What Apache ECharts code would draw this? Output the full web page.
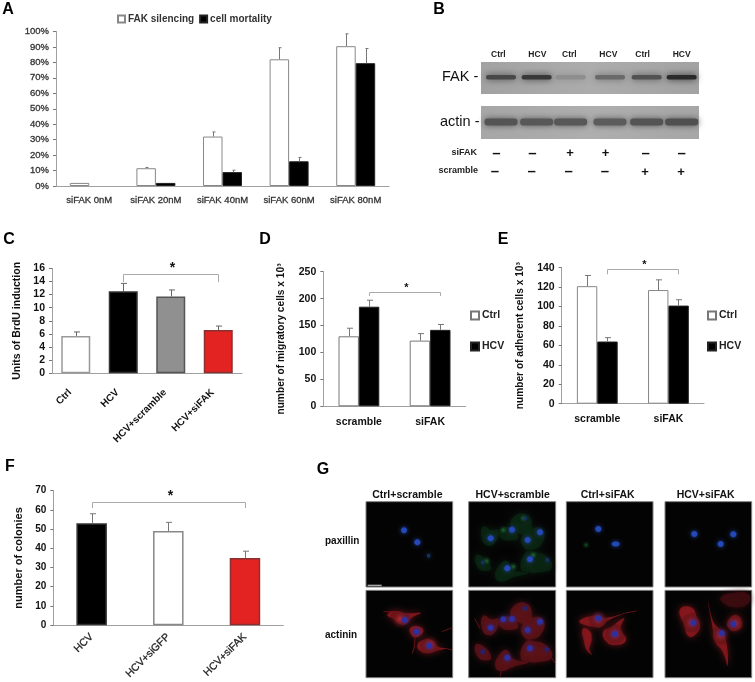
<!DOCTYPE html>
<html>
<head>
<meta charset="utf-8">
<title>FAK panels</title>
<script src="https://cdn.jsdelivr.net/npm/echarts@6/dist/echarts.min.js"></script>
<style>
  html, body { margin: 0; padding: 0; background: #fff; }
  #main { width: 755px; height: 682px; }
</style>
</head>
<body>
<div id="main"></div>
<script>
// panel A
const aCats = ['siFAK 0nM', 'siFAK 20nM', 'siFAK 40nM', 'siFAK 60nM', 'siFAK 80nM'];
const aSilencing = [2, 11.5, 32, 82, 90.5];
const aSilencingTop = [2, 12, 35, 89.5, 98.5];
const aMortality = [null, 2, 9, 16, 79.5];
const aMortalityTop = [null, 2, 10.2, 18.5, 89];
// panel C
const cCats = ['Ctrl', 'HCV', 'HCV+scramble', 'HCV+siFAK'];
const cValues = [5.7, 12.5, 11.7, 6.6];
const cTops = [6.3, 13.7, 12.7, 7.2];
const cColors = ['#ffffff', '#000000', '#909090', '#e32222'];
const cBorders = ['#999999', '#333333', '#555555', '#8a3030'];
// panel D
const dCats = ['scramble', 'siFAK'];
const dCtrl = [130, 122];
const dCtrlTop = [145, 135];
const dHcv = [185, 142];
const dHcvTop = [197, 152];
// panel E
const eCats = ['scramble', 'siFAK'];
const eCtrl = [121, 117];
const eCtrlTop = [132, 127.5];
const eHcv = [64, 101];
const eHcvTop = [68, 107];
// panel F
const fCats = ['HCV', 'HCV+siGFP', 'HCV+siFAK'];
const fValues = [53, 49, 35];
const fTops = [58, 53.5, 38.5];
const fColors = ['#000000', '#ffffff', '#e32222'];
const fBorders = ['#333333', '#888888', '#8a3030'];
// blot
const blotLanes = ['Ctrl', 'HCV', 'Ctrl', 'HCV', 'Ctrl', 'HCV'];
const siFakSigns = ['–', '–', '+', '+', '–', '–'];
const scrambleSigns = ['–', '–', '–', '–', '+', '+'];
const fakBands = ['#484848', '#383838', '#8e8e8e', '#6a6a6a', '#525252', '#2a2a2a'];
const actinBands = ['#545454', '#585858', '#585858', '#5c5c5c', '#545454', '#505050'];
// microscopy
const micColumns = ['Ctrl+scramble', 'HCV+scramble', 'Ctrl+siFAK', 'HCV+siFAK'];
const micRows = ['paxillin', 'actinin'];

const FONT = '"Liberation Sans", Arial, sans-serif';
const AXIS_GREY = '#a0a0a0';

// error bar drawn on top of a bar, value -> pixel via the axis
function errorSeries(idx, cats, values, tops, offset, color, cap) {
  return {
    type: 'custom',
    xAxisIndex: idx,
    yAxisIndex: idx,
    silent: true,
    z: 3,
    data: cats.map((c, i) => [i, values[i], tops[i]]),
    encode: { x: 0, y: 1 },
    renderItem: function (params, api) {
      if (!(api.value(2) > api.value(1))) return null;
      const a = api.coord([api.value(0), api.value(1)]);
      const b = api.coord([api.value(0), api.value(2)]);
      const x = Math.round(a[0] + offset) + 0.5;
      const lineStyle = { stroke: color, lineWidth: 1, fill: null };
      return {
        type: 'group',
        children: [
          { type: 'line', shape: { x1: x, y1: a[1], x2: x, y2: b[1] }, style: lineStyle },
          { type: 'line', shape: { x1: x - cap, y1: b[1], x2: x + cap + 1, y2: b[1] }, style: lineStyle }
        ]
      };
    }
  };
}

// significance bracket with its star
function bracketSeries(idx, from, to, level, drop, offset, starSize) {
  return {
    type: 'custom',
    xAxisIndex: idx,
    yAxisIndex: idx,
    silent: true,
    z: 4,
    data: [[from, level, to, drop]],
    renderItem: function (params, api) {
      const left = api.coord([api.value(0), api.value(1)]);
      const right = api.coord([api.value(2), api.value(1)]);
      const low = api.coord([api.value(0), api.value(3)]);
      const x1 = Math.round(left[0] + offset) + 0.5;
      const x2 = Math.round(right[0] + offset) + 0.5;
      const y = Math.round(left[1]) + 0.5;
      return {
        type: 'group',
        children: [
          { type: 'polyline', shape: { points: [[x1, low[1]], [x1, y], [x2, y], [x2, low[1]]] }, style: { stroke: '#aaa', lineWidth: 1, fill: null } },
          { type: 'text', style: { text: '*', x: (x1 + x2) / 2 + 1.5, y: y - starSize / 2 + 1, align: 'center', textAlign: 'center', verticalAlign: 'middle', textVerticalAlign: 'middle', font: 'bold ' + starSize + 'px ' + FONT, fill: '#111' } }
        ]
      };
    }
  };
}

function barSeries(idx, name, values, color, border, width) {
  return {
    type: 'bar',
    name: name,
    xAxisIndex: idx,
    yAxisIndex: idx,
    barWidth: width,
    barGap: 0,
    silent: true,
    z: 2,
    itemStyle: { color: color, borderColor: border, borderWidth: 1 },
    data: values
  };
}

function paintedBars(idx, values, colors, borders, width) {
  const s = barSeries(idx, 'bars' + idx, [], '#000', '#000', width);
  s.data = values.map((v, i) => ({ value: v, itemStyle: { color: colors[i], borderColor: borders[i], borderWidth: 1.5 } }));
  return s;
}

function xAxisFor(idx, cats, label) {
  return {
    type: 'category',
    gridIndex: idx,
    data: cats,
    axisLine: { lineStyle: { color: AXIS_GREY } },
    axisTick: { alignWithLabel: false, length: 3, lineStyle: { color: '#777' } },
    axisLabel: Object.assign({ interval: 0, fontFamily: FONT, color: '#222' }, label)
  };
}

function yAxisFor(idx, max, interval, label, name, nameGap, nameFont) {
  return {
    type: 'value',
    gridIndex: idx,
    min: 0,
    max: max,
    interval: interval,
    name: name,
    nameLocation: 'middle',
    nameGap: nameGap,
    nameTextStyle: { fontFamily: FONT, fontWeight: 'bold', fontSize: nameFont, color: '#111' },
    splitLine: { show: false },
    axisLine: { show: true, lineStyle: { color: AXIS_GREY } },
    axisTick: { show: true, length: 3, lineStyle: { color: '#777' } },
    axisLabel: Object.assign({ fontFamily: FONT, color: '#222', margin: 7 }, label)
  };
}

// ---- images (blot and micrographs), coordinates measured off the 3x crop ----
function txt(text, x, y, font, fill, align) {
  return {
    type: 'text', silent: true,
    style: { text: text, x: x, y: y, font: font, fill: fill || '#111',
      align: align || 'center', textAlign: align || 'center', verticalAlign: 'middle', textVerticalAlign: 'middle' }
  };
}

function signFont(t) {
  return t === '+' ? 'bold 13px ' + FONT : 'bold 15px ' + FONT;
}

function blotGraphics() {
  const out = [];
  const ox = 425;
  const laneX = [228, 335, 437, 555, 665, 770];
  function backdrop(y, h, c1, c2) {
    out.push({ type: 'rect', silent: true, shape: { x: 481, y: y, width: 218, height: h },
      style: { fill: { type: 'linear', x: 0, y: 0, x2: 1, y2: 0, colorStops: [{ offset: 0, color: c1 }, { offset: 0.5, color: c2 }, { offset: 1, color: c1 }] } } });
  }
  backdrop(62, 32, '#a2a2a2', '#acacac');
  backdrop(106, 33, '#a6a6a6', '#aeaeae');
  laneX.forEach((zx, i) => {
    const cx = ox + zx / 3;
    out.push({ type: 'rect', silent: true, shape: { x: cx - 15, y: 75, width: 30, height: 4.5, r: 2 },
      style: { fill: fakBands[i], shadowBlur: 7, shadowColor: fakBands[i] } });
    out.push({ type: 'rect', silent: true, shape: { x: cx - 16.5, y: 118.5, width: 33, height: 7, r: 3 },
      style: { fill: actinBands[i], shadowBlur: 6, shadowColor: actinBands[i] } });
  });
  const headX = [220, 337, 433, 550, 653, 770];
  blotLanes.forEach((t, i) => out.push(txt(t, ox + headX[i] / 3, 55, 'bold 8.5px ' + FONT, '#222')));
  const rowA = [214, 322, 435, 542, 662, 770];
  const rowB = [210, 320, 431, 540, 660, 768];
  siFakSigns.forEach((t, i) => out.push(txt(t, ox + rowA[i] / 3, 153.5, signFont(t), '#111')));
  scrambleSigns.forEach((t, i) => out.push(txt(t, ox + rowB[i] / 3, 172, signFont(t), '#111')));
  out.push(txt('FAK -', 442, 77, '14.5px ' + FONT, '#111', 'left'));
  out.push(txt('actin -', 440, 122, '14.5px ' + FONT, '#111', 'left'));
  out.push(txt('siFAK', 477, 153, 'bold 9px ' + FONT, '#222', 'right'));
  out.push(txt('scramble', 478, 171, 'bold 9px ' + FONT, '#222', 'right'));
  return out;
}

function micrographGraphics() {
  const out = [];
  const px = p => [300 + p[0] / 3, 455 + p[1] / 3];
  const cols = [[198, 458], [506, 767], [799, 1059], [1095, 1355]];
  const rows = [[140, 396], [406, 668]];
  const headX = [322, 638, 923, 1217];
  rows.forEach(r => cols.forEach(c => {
    const a = px([c[0], r[0]]);
    const b = px([c[1], r[1]]);
    out.push({ type: 'rect', silent: true, shape: { x: a[0], y: a[1], width: b[0] - a[0], height: b[1] - a[1] },
      style: { fill: '#030303', stroke: '#808080', lineWidth: 1 } });
  }));
  micColumns.forEach((t, i) => out.push(txt(t, 300 + headX[i] / 3, 495, 'bold 10.5px ' + FONT, '#111')));
  out.push(txt(micRows[0], 325, 541.5, 'bold 10px ' + FONT, '#111', 'left'));
  out.push(txt(micRows[1], 325, 635.5, 'bold 10px ' + FONT, '#111', 'left'));
  const bar = px([203, 389]);
  out.push({ type: 'rect', silent: true, shape: { x: bar[0], y: bar[1], width: 14, height: 1.5 }, style: { fill: '#aaa' } });

  function blob(points, color, alpha) {
    out.push({ type: 'polygon', silent: true, shape: { points: points.map(px), smooth: 0.5 },
      style: { fill: color, opacity: alpha, shadowBlur: 6, shadowColor: color } });
  }
  function spot(p, r, color) {
    const q = px(p);
    out.push({ type: 'circle', silent: true, shape: { cx: q[0], cy: q[1], r: r },
      style: { fill: { type: 'radial', x: 0.5, y: 0.5, r: 0.5, colorStops: [{ offset: 0, color: color }, { offset: 1, color: 'rgba(0,0,0,0)' }] } } });
  }
  function nucleus(p, rx, ry, color) {
    const q = px(p);
    out.push({ type: 'ellipse', silent: true, shape: { cx: q[0], cy: q[1], rx: rx, ry: ry },
      style: { fill: color || '#2448b8', shadowBlur: 4, shadowColor: color || '#2448b8' } });
  }
  function wisp(points, color) {
    out.push({ type: 'polyline', silent: true, shape: { points: points.map(px), smooth: 0.4 },
      style: { stroke: color, lineWidth: 1, fill: null, opacity: 0.8 } });
  }

  // red cells of the actinin row
  const redCells = [
    [[262, 480], [285, 468], [320, 475], [362, 474], [332, 490], [322, 505], [302, 508], [280, 492]],
    [[330, 520], [350, 513], [370, 525], [360, 542], [342, 546], [332, 535]],
    [[352, 572], [368, 556], [395, 555], [415, 575], [438, 580], [408, 588], [385, 595], [362, 588]],
    [[838, 500], [880, 482], [918, 488], [975, 474], [922, 498], [905, 515], [885, 516]],
    [[910, 530], [935, 515], [972, 490], [962, 520], [978, 556], [945, 570], [918, 558]],
    [[848, 522], [868, 527], [875, 550], [868, 585], [872, 597], [860, 585], [852, 558]],
    [[1140, 463], [1175, 458], [1192, 490], [1200, 510], [1190, 535], [1168, 545], [1152, 510]],
    [[1224, 440], [1240, 500], [1258, 522], [1276, 548], [1283, 632], [1268, 590], [1244, 558], [1238, 520]],
    [[1283, 500], [1310, 480], [1326, 510], [1308, 527], [1288, 522]]
  ];
  const crowdedCells = [
    [[550, 482], [575, 493], [596, 492], [586, 530], [562, 540], [545, 518]],
    [[645, 450], [678, 445], [695, 470], [686, 505], [662, 505], [632, 480]],
    [[665, 515], [700, 487], [730, 495], [725, 535], [695, 553], [672, 546]],
    [[676, 562], [700, 558], [742, 574], [755, 608], [720, 620], [684, 620], [662, 608]],
    [[596, 602], [620, 585], [640, 612], [685, 622], [640, 635], [604, 648], [586, 636]],
    [[526, 570], [550, 574], [574, 608], [558, 616], [534, 606]],
    [[600, 494], [636, 486], [655, 516], [638, 524], [604, 518]]
  ];
  const redWisps = [
    [[345, 546], [342, 580], [336, 596]],
    [[250, 470], [285, 470]],
    [[438, 580], [456, 585]],
    [[425, 530], [457, 518]],
    [[868, 585], [875, 600]],
    [[975, 474], [1010, 468]],
    [[540, 520], [524, 490]],
    [[755, 608], [765, 625]],
    [[604, 648], [600, 664]]
  ];
  blob([[1262, 428], [1300, 414], [1346, 418], [1342, 448], [1300, 456], [1272, 445]], '#3c0c10', 0.9);
  redCells.forEach(c => blob(c, '#8c181e', 0.82));
  crowdedCells.forEach(c => blob(c, '#5e1216', 0.8));
  redWisps.forEach(w => wisp(w, '#7a151a'));
  // same crowded cells in green for the paxillin row
  crowdedCells.forEach(c => blob(c.map(p => [p[0], p[1] - 268]), '#0a2a14', 0.65));
  [[390, 570], [945, 537], [1175, 503], [1262, 540], [300, 492], [1305, 505], [895, 492]].forEach(p => spot(p, 11, '#c02a32'));
  [[610, 225], [560, 318], [640, 335], [700, 300], [670, 190]].forEach(p => spot(p, 6, '#1e6c30'));
  [[858, 270], [1183, 237], [1300, 238]].forEach(p => spot(p, 5, '#165426'));

  // nuclei
  const paxNuclei = [[312, 226], [352, 262], [895, 222], [1183, 237], [1262, 267], [1300, 238], [572, 250], [636, 224], [683, 255], [720, 232], [690, 313], [622, 340]];
  const paxBig = [[947, 267]];
  const actNuclei = [[315, 495], [350, 530], [388, 572], [895, 490], [945, 537], [1180, 503], [1265, 535], [1300, 507], [572, 518], [610, 493], [636, 492], [683, 525], [720, 500], [690, 580], [622, 608]];
  paxNuclei.forEach(p => nucleus(p, 3, 3));
  paxBig.forEach(p => nucleus(p, 4, 2.5));
  actNuclei.forEach(p => nucleus(p, 3, 3, '#2c30a0'));
  [[386, 302], [676, 190], [548, 322], [742, 315]].forEach(p => nucleus(p, 1.8, 2.2, '#14305c'));
  [[675, 460], [548, 590], [740, 583]].forEach(p => nucleus(p, 2.2, 2.2, '#222270'));
  return out;
}

function letters() {
  const spots = [['A', 8, 10], ['B', 439, 10], ['C', 9, 240], ['D', 265, 240], ['E', 503, 240], ['F', 10, 467], ['G', 323, 470]];
  return spots.map(s => txt(s[0], s[1], s[2], 'bold 16px ' + FONT, '#000'));
}

const chart = echarts.init(document.getElementById('main'), null, { renderer: 'canvas' });

// fattens regular text a little, the scan reads heavier than plain weight
const softBold = { textBorderColor: '#333', textBorderWidth: 0.3 };
const legendLabel = { fontFamily: FONT, fontSize: 10.5, fontWeight: 'bold', color: '#222', padding: [0, 0, 0, -2] };

const option = {
  animation: false,
  backgroundColor: '#fff',
  grid: [
    { left: 56, top: 31.5, width: 333, height: 154.5 },
    { left: 52, top: 268.3, width: 190, height: 105 },
    { left: 323.3, top: 271.7, width: 142.4, height: 134.6 },
    { left: 561.7, top: 267.7, width: 142.3, height: 136 },
    { left: 53.3, top: 490.7, width: 230, height: 135.3 }
  ],
  xAxis: [
    xAxisFor(0, aCats, Object.assign({ fontSize: 9.5, margin: 9, color: '#333' }, softBold)),
    xAxisFor(1, cCats, { fontSize: 10, fontWeight: 'bold', rotate: 45, margin: 12, color: '#111', padding: [0, 8, 0, 0] }),
    xAxisFor(2, dCats, { fontSize: 10.5, fontWeight: 'bold', margin: 10, color: '#111' }),
    xAxisFor(3, eCats, { fontSize: 10.5, fontWeight: 'bold', margin: 10, color: '#111' }),
    xAxisFor(4, fCats, Object.assign({ fontSize: 10.5, rotate: 45, margin: 10, color: '#222' }, softBold))
  ],
  yAxis: [
    yAxisFor(0, 100, 10, Object.assign({ fontSize: 9.5, color: '#333', formatter: '{value}%' }, softBold), '', 0, 10),
    yAxisFor(1, 16, 2, { fontSize: 10.5, fontWeight: 'bold', color: '#111' }, 'Units of BrdU induction', 29, 10.5),
    yAxisFor(2, 250, 50, { fontSize: 10.5, fontWeight: 'bold', color: '#111' }, 'number of migratory cells x 10³', 37, 10.2),
    yAxisFor(3, 140, 20, { fontSize: 10.5, fontWeight: 'bold', color: '#111' }, 'number of adherent cells x 10³', 37, 10.2),
    yAxisFor(4, 70, 10, { fontSize: 10, fontWeight: 'bold', color: '#111' }, 'number of colonies', 29, 11)
  ],
  legend: [
    { data: ['FAK silencing', 'cell mortality'], left: 112, top: 9, icon: 'rect', itemWidth: 7, itemHeight: 7, itemGap: 5, selectedMode: false,
      textStyle: Object.assign({}, legendLabel, { fontSize: 10, color: '#333' }) },
    { data: ['Ctrl', 'HCV'], orient: 'vertical', left: 465, top: 305, icon: 'rect', itemWidth: 8, itemHeight: 8, itemGap: 20, selectedMode: false,
      textStyle: legendLabel },
    { data: ['Ctrl', 'HCV'], orient: 'vertical', left: 702, top: 305, icon: 'rect', itemWidth: 8, itemHeight: 8, itemGap: 20, selectedMode: false,
      textStyle: legendLabel }
  ],
  series: [
    barSeries(0, 'FAK silencing', aSilencing, '#fff', '#888', 19.5),
    barSeries(0, 'cell mortality', aMortality, '#000', '#222', 19.5),
    errorSeries(0, aCats, aSilencing, aSilencingTop, -10, '#777', 1),
    errorSeries(0, aCats, aMortality, aMortalityTop, 10, '#777', 1),

    paintedBars(1, cValues, cColors, cBorders, 29),
    errorSeries(1, cCats, cValues, cTops, 0, '#666', 2.5),
    bracketSeries(1, 1, 3, 15.2, 13.9, 0, 14),

    barSeries(2, 'Ctrl', dCtrl, '#fff', '#777', 20.4),
    barSeries(2, 'HCV', dHcv, '#000', '#222', 20.4),
    errorSeries(2, dCats, dCtrl, dCtrlTop, -10, '#777', 2.5),
    errorSeries(2, dCats, dHcv, dHcvTop, 10, '#777', 2.5),
    bracketSeries(2, 0, 1, 213, 205, 10, 11),

    barSeries(3, 'Ctrl', eCtrl, '#fff', '#888', 20.4),
    barSeries(3, 'HCV', eHcv, '#000', '#222', 20.4),
    errorSeries(3, eCats, eCtrl, eCtrlTop, -10, '#777', 2.5),
    errorSeries(3, eCats, eHcv, eHcvTop, 10, '#777', 2.5),
    bracketSeries(3, 0, 1, 138.3, 133.2, 10, 11),

    paintedBars(4, fValues, fColors, fBorders, 30.5),
    errorSeries(4, fCats, fValues, fTops, 0, '#777', 2.5),
    bracketSeries(4, 0, 2, 64, 61, 0, 14)
  ],
  graphic: { elements: [].concat(letters(), blotGraphics(), micrographGraphics()) }
};

chart.setOption(option);
window.addEventListener('resize', () => chart.resize());
</script>
</body>
</html>
